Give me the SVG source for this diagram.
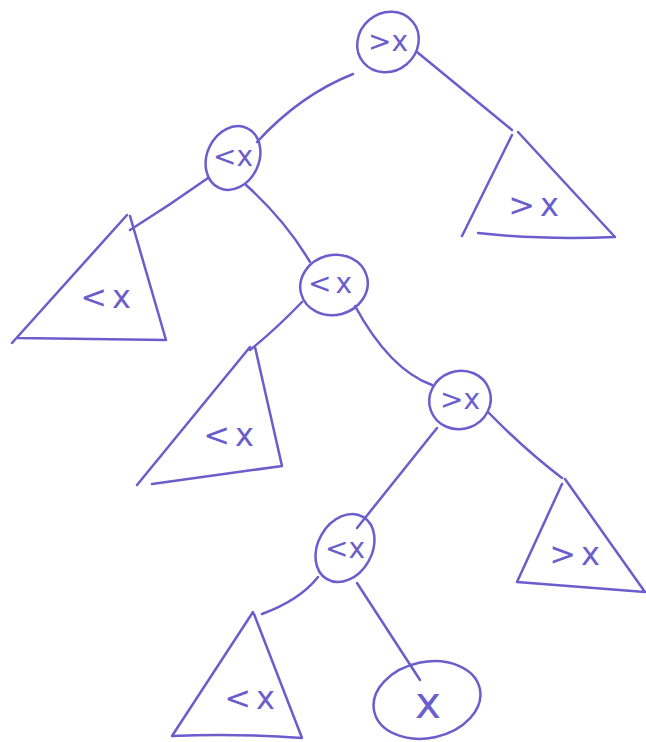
<svg xmlns="http://www.w3.org/2000/svg" width="646" height="742" viewBox="0 0 646 742">
<style>
.s{fill:none;stroke:#6a5dcc;stroke-width:2.5;stroke-linecap:round;stroke-linejoin:round}
.t{font-family:"DejaVu Sans","Liberation Sans",sans-serif;font-size:28px;fill:#6a5dcc;text-anchor:middle}
.b{font-size:32px;letter-spacing:5px}
.big{font-size:44px}
</style>
<rect width="646" height="742" fill="#ffffff"/>
<g id="connectors" class="s">
<path d="M353,74 Q300,95 257,142"/>
<path d="M417,52 L512,130"/>
<path d="M208,178 Q170,205 130,230"/>
<path d="M246,185 Q285,220 310,262"/>
<path d="M302,302 Q275,330 250,350"/>
<path d="M355,306 Q390,370 432,385"/>
<path d="M437,428 L357,528"/>
<path d="M488,412 Q525,450 562,478"/>
<path d="M318,577 Q300,600 262,614"/>
<path d="M357,583 L420,680"/>
</g>
<g id="root">
<ellipse class="s" cx="388" cy="42" rx="32" ry="29" transform="rotate(-40 388 42)"/>
<text class="t" x="388" y="51">&gt;x</text>
</g>
<g id="n1">
<ellipse class="s" cx="233" cy="158" rx="26" ry="33" transform="rotate(25 233 158)"/>
<text class="t" x="233" y="166">&lt;x</text>
</g>
<g id="n2">
<ellipse class="s" cx="334" cy="285" rx="34" ry="30" transform="rotate(-15 334 285)"/>
<text class="t" x="332" y="293" letter-spacing="4">&lt;x</text>
</g>
<g id="n3">
<ellipse class="s" cx="460" cy="400" rx="31" ry="29" transform="rotate(-20 460 400)"/>
<text class="t" x="460" y="409">&gt;x</text>
</g>
<g id="n4">
<ellipse class="s" cx="345" cy="548" rx="27" ry="36" transform="rotate(30 345 548)"/>
<text class="t" x="345" y="558">&lt;x</text>
</g>
<g id="leaf">
<ellipse class="s" cx="427" cy="700" rx="54" ry="38" transform="rotate(-12 427 700)"/>
<text class="t big" x="428" y="718">x</text>
</g>
<g id="t1">
<path class="s" d="M127,215 L12,343 M18,338 L166,340 L130,216"/>
<text class="t b" x="108" y="308">&lt;x</text>
</g>
<g id="t2">
<path class="s" d="M250,347 L137,485 M152,484 L282,466 L255,347"/>
<text class="t b" x="231" y="446">&lt;x</text>
</g>
<g id="t3">
<path class="s" d="M512,135 L462,236 M478,233 Q540,240 615,237 L518,132"/>
<text class="t b" x="536" y="216">&gt;x</text>
</g>
<g id="t4">
<path class="s" d="M562,484 L517,582 L645,592 L565,479"/>
<text class="t b" x="577" y="565">&gt;x</text>
</g>
<g id="t5">
<path class="s" d="M253,612 L172,736 Q235,733 302,738 L254,614"/>
<text class="t b" x="252" y="709">&lt;x</text>
</g>
</svg>
